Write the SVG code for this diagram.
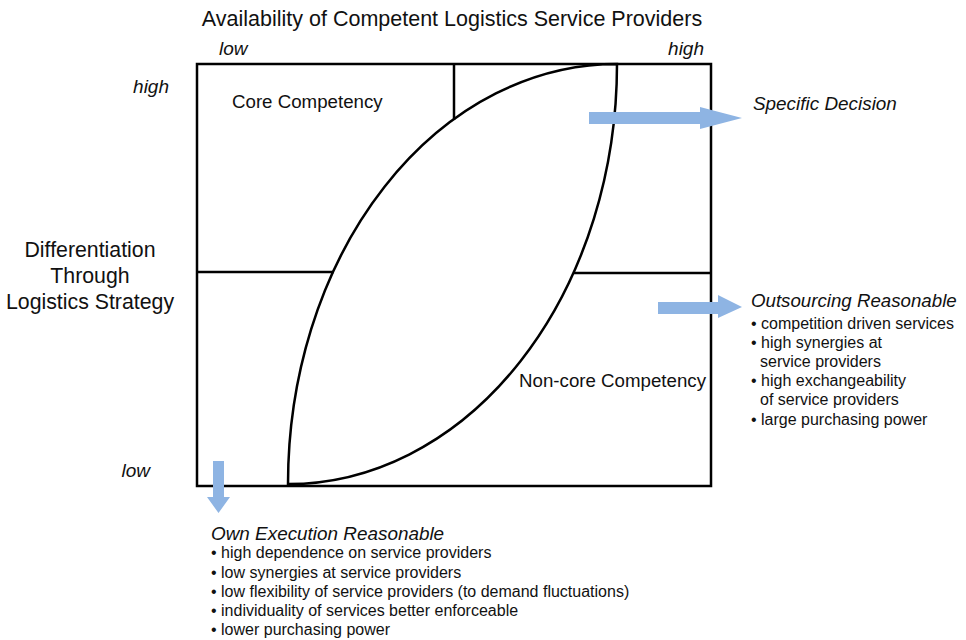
<svg xmlns="http://www.w3.org/2000/svg" width="966" height="640" viewBox="0 0 966 640">
<style>
text{font-family:"Liberation Sans",Arial,sans-serif;fill:#111}
.it{font-style:italic}
.ln{stroke:#000;stroke-width:2.5;fill:none}
.ar{fill:#8EB4E3}
.b{font-size:16px}
</style>
<rect width="966" height="640" fill="#fff"/>
<g id="axes">
<text x="452" y="26" font-size="21.5" text-anchor="middle">Availability of Competent Logistics Service Providers</text>
<text x="219" y="55" font-size="19" class="it">low</text>
<text x="704" y="55" font-size="19" class="it" text-anchor="end">high</text>
<text x="169" y="93" font-size="19" class="it" text-anchor="end">high</text>
<text x="150" y="477" font-size="19" class="it" text-anchor="end">low</text>
<text x="90" y="257" font-size="21.3" text-anchor="middle">Differentiation</text>
<text x="90" y="283" font-size="21.3" text-anchor="middle">Through</text>
<text x="90" y="309" font-size="21.3" text-anchor="middle">Logistics Strategy</text>
</g>
<g id="matrix">
<rect x="197" y="64" width="514" height="422" class="ln" fill="#fff"/>
<line x1="454" y1="64" x2="454" y2="120" class="ln"/>
<line x1="197" y1="272" x2="334" y2="272" class="ln"/>
<line x1="574" y1="273" x2="711" y2="273" class="ln"/>
</g>
<g id="lens">
<path d="M617,64 A329,420 0 0 0 288,484 A329,420 0 0 0 617,64 Z" class="ln" fill="#fff"/>
</g>
<g id="core">
<text x="232" y="108" font-size="18.7">Core Competency</text>
</g>
<g id="noncore">
<text x="706" y="387" font-size="18.7" text-anchor="end">Non-core Competency</text>
</g>
<g id="connectors">
<polygon class="ar" points="589,112 700,112 700,107 742,118 700,129 700,124 589,124"/>
<polygon class="ar" points="658,302 718,302 718,295 742,307 718,318 718,314 658,314"/>
<polygon class="ar" points="213,461 224,461 224,497 230,497 218.5,513 207,497 213,497"/>
</g>
<g id="specific">
<text x="753" y="110" font-size="18.9" class="it">Specific Decision</text>
</g>
<g id="outsourcing">
<text x="751" y="307" font-size="18.7" class="it">Outsourcing Reasonable</text>
<text x="751" y="329" class="b">• competition driven services</text>
<text x="751" y="348" class="b">• high synergies at</text>
<text x="760" y="367" class="b">service providers</text>
<text x="751" y="386" class="b">• high exchangeability</text>
<text x="760" y="405" class="b">of service providers</text>
<text x="751" y="425" class="b">• large purchasing power</text>
</g>
<g id="own">
<text x="211" y="540" font-size="18.9" class="it">Own Execution Reasonable</text>
<text x="211" y="558" class="b">• high dependence on service providers</text>
<text x="211" y="578" class="b">• low synergies at service providers</text>
<text x="211" y="597" class="b">• low flexibility of service providers (to demand fluctuations)</text>
<text x="211" y="616" class="b">• individuality of services better enforceable</text>
<text x="211" y="635" class="b">• lower purchasing power</text>
</g>
</svg>
